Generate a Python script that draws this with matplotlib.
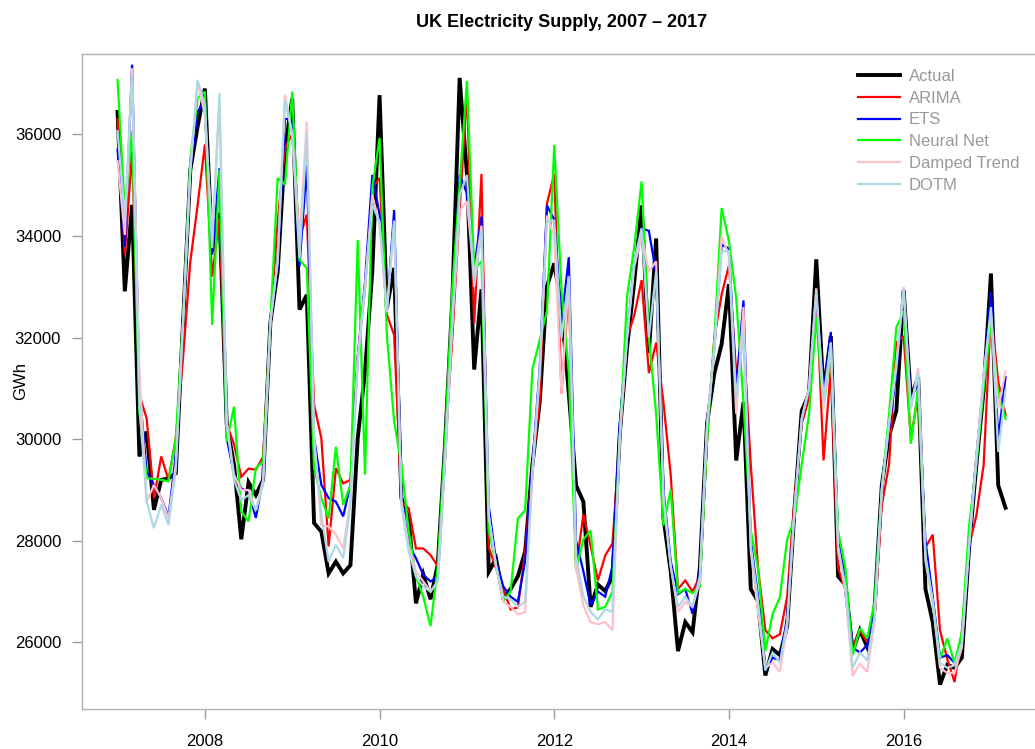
import numpy as np
import matplotlib.pyplot as plt

# monthly series, Jan 2007 - Mar 2017 (GWh)
start_year = 2007
actual = [36440, 32910, 34610, 29660, 30150, 28610, 29200, 29230, 29330, 32300, 35300, 36150,
          36900, 33700, 34450, 30300, 29500, 28030, 29150, 28900, 29200, 32300, 33300, 35700,
          36700, 32550, 32840, 28350, 28180, 27360, 27590, 27360, 27520, 30020, 31330, 33300,
          36770, 32580, 33370, 28840, 28440, 26770, 27340, 26850, 27540, 29910, 32770, 37110,
          35220, 31370, 32950, 27390, 27650, 26890, 27050, 27300, 27790, 29500, 30730, 33010,
          33460, 32600, 30890, 29090, 28770, 26700, 27140, 27010, 27300, 30100, 31800, 33100,
          34600, 31700, 33950, 28450, 27400, 25830, 26400, 26200, 27460, 30320, 31300, 31870,
          33050, 29580, 30730, 27050, 26810, 25350, 25870, 25750, 26320, 28600, 30560, 30890,
          33540, 30890, 32030, 27300, 27140, 25830, 26240, 25910, 26650, 29090, 30070, 30560,
          32930, 30810, 31220, 27050, 26400, 25170, 25560, 25500, 25700, 27870, 29500, 30970,
          33260, 29090, 28650]

arima = [36300, 33620, 35660, 30870, 30410, 28840, 29660, 29200, 30020, 31600, 33500, 34600,
         35800, 33200, 34350, 30300, 29900, 29260, 29420, 29400, 29650, 32300, 34280, 35730,
         36000, 33950, 34420, 30680, 30020, 27890, 29430, 29130, 29200, 31660, 32970, 34940,
         35140, 32450, 32050, 28770, 28640, 27850, 27850, 27720, 27500, 29800, 32000, 34500,
         36850, 32280, 35220, 27870, 27460, 27050, 26650, 26690, 27790, 29500, 30730, 34640,
         35220, 30890, 33000, 27460, 28520, 27900, 27220, 27710, 27950, 30000, 32000, 32440,
         33130, 31300, 31900, 30730, 29300, 27050, 27220, 27000, 27300, 30000, 32000, 32850,
         33420, 31300, 32000, 29500, 27460, 26240, 26080, 26160, 26900, 28800, 30300, 30810,
         32930, 29580, 31400, 27460, 27050, 25910, 26240, 26000, 26470, 28700, 29500, 31900,
         32030, 30000, 30900, 27870, 28120, 26240, 25670, 25220, 26200, 27900, 28500, 29500,
         32520, 31130, 30480]

ets = [35700, 33790, 37370, 31000, 29360, 29100, 28840, 28480, 29690, 32300, 35300, 36450,
       36650, 33630, 35330, 30020, 29300, 29030, 28970, 28450, 29250, 32300, 33400, 36300,
       36300, 33400, 35400, 30020, 29100, 28840, 28770, 28480, 29100, 31600, 33100, 35200,
       34420, 32500, 34510, 28900, 27920, 27660, 27330, 27200, 27300, 29800, 32500, 35200,
       34840, 33370, 34380, 28690, 27600, 27100, 26900, 26800, 27600, 29500, 31400, 34600,
       34320, 32300, 33580, 28000, 27400, 26730, 27000, 26900, 27500, 30300, 32000, 33500,
       34150, 34100, 33260, 29000, 27600, 26950, 27050, 26560, 27400, 30300, 31800, 33830,
       33750, 31000, 32730, 28000, 26900, 25450, 25700, 25650, 26500, 28600, 30400, 31000,
       32850, 30900, 32110, 28000, 27300, 25900, 25800, 25950, 26600, 29100, 30200, 31300,
       32900, 30800, 31100, 28000, 26900, 25700, 25750, 25600, 26000, 27800, 29600, 31200,
       32900, 30000, 31220]

nnet = [37070, 34510, 36060, 30540, 29230, 29220, 29200, 29170, 30020, 32320, 35530, 36710,
        36840, 32250, 35300, 29950, 30640, 28580, 28380, 29430, 29560, 32300, 35140, 35010,
        36840, 33530, 33370, 29430, 28840, 28440, 29850, 28710, 29100, 33920, 29300, 34940,
        35930, 32050, 30350, 29500, 28200, 27300, 26900, 26320, 27500, 30000, 33000, 35000,
        37050, 33340, 33500, 28200, 27540, 26810, 27000, 28440, 28600, 31380, 31950, 32520,
        35790, 32930, 31300, 27420, 28030, 28200, 26650, 26700, 27000, 30000, 32800, 33800,
        35070, 32000, 30500, 28300, 29010, 26970, 27050, 26970, 27100, 30000, 32000, 34550,
        33900, 32770, 30730, 28200, 27460, 25830, 26560, 26890, 28030, 28440, 29500, 30480,
        32400, 30600, 31800, 28200, 27460, 25750, 26280, 26080, 26800, 29000, 30500, 32200,
        32520, 29910, 31000, 27700, 26800, 25670, 26080, 25590, 26200, 28300, 29500, 31000,
        32280, 30890, 30400]

damped = [35470, 34020, 37300, 31330, 28770, 29100, 28840, 28440, 29500, 32300, 35300, 37040,
          36380, 34020, 36580, 30350, 29300, 29000, 29000, 28600, 29200, 32300, 33500, 36780,
          36000, 33900, 36250, 30000, 28310, 28280, 28120, 27850, 28800, 31600, 33000, 34810,
          34200, 32500, 34300, 28800, 27900, 27400, 27200, 27000, 27200, 29600, 32300, 34500,
          34680, 33200, 34200, 28500, 27500, 26800, 26700, 26550, 26600, 29300, 31300, 34400,
          34000, 30890, 33200, 27460, 26730, 26400, 26360, 26400, 26240, 30000, 32000, 33400,
          34000, 33300, 33500, 28800, 27500, 26600, 26800, 26700, 27200, 30300, 31800, 34000,
          33600, 30500, 32600, 27800, 26600, 25500, 25600, 25420, 26300, 28600, 30400, 31000,
          32970, 30600, 31900, 27800, 27000, 25340, 25580, 25420, 26400, 29000, 30300, 31500,
          33000, 30600, 31400, 27600, 26800, 25500, 25400, 25400, 25900, 27900, 29700, 31300,
          32500, 30600, 31340]

dotm = [36060, 34350, 37170, 30680, 28770, 28250, 28710, 28310, 29400, 32300, 35300, 37070,
        36580, 33760, 36810, 30300, 29200, 28800, 28900, 28600, 29100, 32300, 33500, 36680,
        36000, 33560, 36000, 30000, 28510, 27590, 27920, 27660, 28700, 31500, 33000, 34610,
        34280, 32500, 34280, 28700, 27800, 27300, 27100, 27000, 27200, 29600, 32300, 34800,
        35200, 33000, 34100, 28500, 27500, 26900, 26850, 26700, 26800, 29400, 31300, 34300,
        34300, 32000, 33200, 27700, 26900, 26600, 26450, 26650, 26600, 30100, 32000, 33500,
        34150, 32000, 33300, 28900, 27500, 26700, 26900, 26700, 27300, 30300, 31800, 33700,
        33700, 30800, 32100, 27900, 26800, 25450, 25800, 25600, 26400, 28600, 30400, 31000,
        32900, 30800, 31900, 27900, 27100, 25500, 25800, 25650, 26500, 29000, 30300, 31400,
        32950, 30600, 31300, 27700, 26800, 25600, 25500, 25550, 26000, 27900, 29600, 31200,
        32600, 29750, 30970]

series = [('Actual', actual, 'black', 2.8),
          ('ARIMA', arima, '#FF0000', 1.6),
          ('ETS', ets, '#0000FF', 1.6),
          ('Neural Net', nnet, '#00FF00', 1.6),
          ('Damped Trend', damped, '#FFC0CB', 1.6),
          ('DOTM', dotm, '#ADD8E6', 1.6)]

t = start_year + np.arange(len(actual)) / 12.0

plt.rcParams['font.family'] = ['Liberation Sans', 'DejaVu Sans']
fig = plt.figure(figsize=(10.35, 7.49), dpi=100)
# plot box runs slightly past the right edge, as in the original
ax = fig.add_axes([82/1035, 40/749, (1041-82)/1035, (709-53.5)/749])

for name, vals, col, lw in series:
    ax.plot(t, vals, color=col, lw=lw, label=name, solid_joinstyle='miter')

ax.set_xlim(2006.593, 2017.573)
ax.set_ylim(24690, 37590)
ax.set_xticks([2008, 2010, 2012, 2014, 2016])
ax.set_yticks(np.arange(26000, 36001, 2000))
ax.tick_params(axis='both', labelsize=12, color='#999999', length=7, width=1)
ax.tick_params(axis='x', pad=11)
ax.tick_params(axis='y', pad=8)
for s in ax.spines.values():
    s.set_color('#b0b0b0')
    s.set_linewidth(1)

ax.set_ylabel('GWh', fontsize=12)
ax.yaxis.set_label_coords((28 - 82) / 959, 0.5)
ax.set_title('UK Electricity Supply, 2007 \u2013 2017', fontsize=13, fontweight='bold', pad=19)

leg = ax.legend(loc='upper left', bbox_to_anchor=(0.8025, 0.987), frameon=False, fontsize=12,
                handlelength=2.5, handletextpad=0.55, labelspacing=0.41, borderaxespad=0)
for txt in leg.get_texts():
    txt.set_color('#999999')

fig.savefig('out.png', dpi=100)
